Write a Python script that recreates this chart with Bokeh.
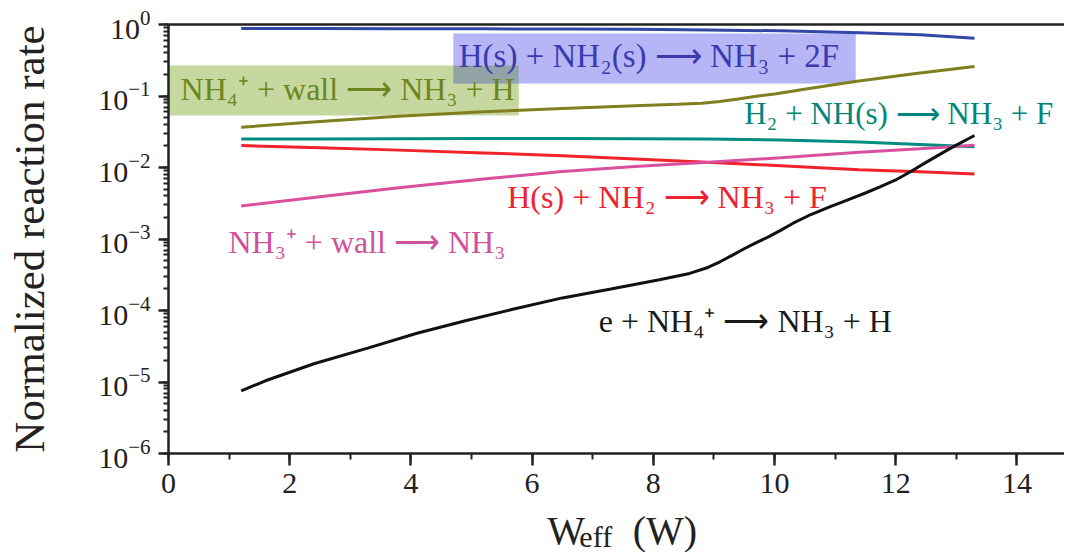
from bokeh.plotting import figure
from bokeh.models import (Label, BoxAnnotation, SingleIntervalTicker, LogTicker, Range1d,
                          LinearAxis)
from bokeh.embed import file_html
from bokeh.resources import INLINE

# ---- data ----
x_common = [1.2, 2.5, 3.8, 5.2, 6.5, 7.7, 8.9, 10.1, 11.4, 12.4, 13.3]
blue_hs_nh2s = [0.88, 0.88, 0.875, 0.87, 0.865, 0.855, 0.84, 0.815, 0.765, 0.72, 0.64]
teal_h2_nhs = [0.025, 0.025, 0.0252, 0.0254, 0.0254, 0.0252, 0.025, 0.0242, 0.0228, 0.021, 0.0195]
red_hs_nh2 = [0.0203, 0.0189, 0.0175, 0.016, 0.0146, 0.0132, 0.0118, 0.0106, 0.0093, 0.0087, 0.0081]
magenta_nh3p_wall = [0.0029, 0.0039, 0.0052, 0.0069, 0.0088, 0.0103, 0.0118, 0.0137, 0.0163, 0.0183, 0.0204]

x_olive = [1.2, 2.5, 3.8, 5.2, 6.5, 7.7, 8.4, 8.8, 9.1, 9.4, 9.7, 10.0, 10.6, 11.3, 12.3, 13.3]
olive_nh4p_wall = [0.0366, 0.044, 0.052, 0.060, 0.067, 0.073, 0.0765, 0.079, 0.084, 0.091,
                   0.099, 0.107, 0.128, 0.158, 0.205, 0.259]

x_black = [1.2, 1.6, 2.4, 3.3, 4.1, 4.9, 5.7, 6.5, 7.3, 8.1, 8.6, 8.9, 9.1, 9.3, 9.5, 9.7,
           9.9, 10.1, 10.3, 10.6, 10.9, 11.2, 11.5, 11.75, 12.0, 12.25, 12.5, 12.9, 13.3]
black_e_nh4p = [7.5e-6, 1.04e-5, 1.8e-5, 3.0e-5, 4.8e-5, 7.2e-5, 1.05e-4, 1.5e-4, 2.0e-4,
                2.7e-4, 3.3e-4, 4.0e-4, 4.8e-4, 5.9e-4, 7.3e-4, 8.9e-4, 1.07e-3, 1.32e-3,
                1.65e-3, 2.2e-3, 2.8e-3, 3.5e-3, 4.4e-3, 5.4e-3, 6.7e-3, 8.8e-3, 1.18e-2,
                1.85e-2, 2.8e-2]

X_MIN, X_MAX = 0, 14.7855       # visible data extent of the axes
Y_MIN, Y_MAX = 1e-6, 1

FONT = "Liberation Serif"
INK = "#222222"
LIFT = 10**0.161                # text baseline correction (about 11 px)

# The frame fills the whole canvas; axes are pinned at x=0 / y=1e-6 so every text
# (tick labels, axis titles) stays inside the drawable area.
p = figure(width=1064, height=552, y_axis_type="log",
           x_range=Range1d(-2.7723, X_MAX), y_range=Range1d(10**-7.3846, 10**0.3357),
           output_backend="svg", toolbar_location=None,
           min_border_left=0, min_border_right=0, min_border_top=0, min_border_bottom=0)
p.grid.visible = False
p.outline_line_color = None

# background label boxes (annotations)
p.add_layout(BoxAnnotation(left=0, right=5.78, bottom=10**-1.273, top=10**-0.573,
                           fill_color="#c6d89f", fill_alpha=1.0, line_color=None, level="underlay"))
p.add_layout(BoxAnnotation(left=4.70, right=11.34, bottom=10**-0.825, top=10**-0.126,
                           fill_color="#b6b6f7", fill_alpha=1.0, line_color=None, level="underlay"))
p.add_layout(BoxAnnotation(left=4.70, right=5.78, bottom=10**-0.825, top=10**-0.573,
                           fill_color="#92a3a6", fill_alpha=1.0, line_color=None, level="underlay"))

lw = 3
p.line(x_common, blue_hs_nh2s, line_color="#3347a8", line_width=lw)
p.line(x_olive, olive_nh4p_wall, line_color="#7f7f1f", line_width=lw)
p.line(x_common, teal_h2_nhs, line_color="#008c80", line_width=lw)
p.line(x_common, red_hs_nh2, line_color="#f0222a", line_width=lw)
p.line(x_common, magenta_nh3p_wall, line_color="#d9509f", line_width=lw)
p.line(x_black, black_e_nh4p, line_color="#111111", line_width=lw)

# axes
xa = p.xaxis[0]
xa.fixed_location = Y_MIN
xa.bounds = (X_MIN, X_MAX)
xa.ticker = SingleIntervalTicker(interval=2, num_minor_ticks=2)
ya = p.yaxis[0]
ya.fixed_location = X_MIN
ya.bounds = (Y_MIN, Y_MAX)
ya.ticker = LogTicker(num_minor_ticks=10)
for ax in (xa, ya):
    ax.axis_line_width = 2.5
    ax.axis_line_color = INK
    ax.major_tick_line_width = 2.5
    ax.minor_tick_line_width = 2
    ax.major_tick_line_color = INK
    ax.minor_tick_line_color = INK
    ax.major_tick_in = 0
    ax.minor_tick_in = 0
    ax.major_label_text_font = FONT
    ax.major_label_text_font_size = "30px"
    ax.major_label_text_color = INK
xa.major_tick_out = 12
xa.minor_tick_out = 6
xa.major_label_standoff = 8
ya.major_tick_out = 10
ya.minor_tick_out = 5
ya.major_label_standoff = 8
ya.axis_label = "Normalized reaction rate"
ya.axis_label_text_font = FONT
ya.axis_label_text_font_size = "43px"
ya.axis_label_text_font_style = "normal"
ya.axis_label_text_color = INK
ya.axis_label_standoff = 42

# top frame line (an axis without ticks or labels)
top = LinearAxis(fixed_location=Y_MAX, bounds=(X_MIN, X_MAX),
                 axis_line_width=2.5, axis_line_color=INK,
                 major_tick_line_color=None, minor_tick_line_color=None,
                 major_label_text_color=None)
p.add_layout(top, "above")

# x axis title W_eff (W) built from text pieces
p.add_layout(Label(x=6.25, y=10**-7.077, text="W", text_font=FONT, text_font_size="40px",
                   text_color=INK, text_baseline="alphabetic"))
p.add_layout(Label(x=6.78, y=10**-7.16, text="eff", text_font=FONT, text_font_size="30px",
                   text_color=INK, text_baseline="alphabetic"))
p.add_layout(Label(x=7.66, y=10**-7.077, text="(W)", text_font=FONT, text_font_size="40px",
                   text_color=INK, text_baseline="alphabetic"))

# reaction labels
labels = [
    (4.79, 0.253, "H(s) + NH₂(s) ⟶ NH₃ + 2F", "#3a3aae", "33px"),
    (0.20, 0.0865, "NH₄⁺ + wall ⟶ NH₃ + H", "#6a861c", "32px"),
    (9.50, 0.0387, "H₂ + NH(s) ⟶ NH₃ + F", "#00877a", "31px"),
    (5.59, 0.00267, "H(s) + NH₂ ⟶ NH₃ + F", "#ee2230", "32px"),
    (0.99, 6.27e-4, "NH₃⁺ + wall ⟶ NH₃", "#d0519c", "32px"),
    (7.10, 4.92e-5, "e + NH₄⁺ ⟶ NH₃ + H", "#1a1a1a", "32px"),
]
for lx, ly, txt, col, fs in labels:
    p.add_layout(Label(x=lx, y=ly * LIFT, text=txt, text_font=FONT, text_font_size=fs,
                       text_color=col, text_baseline="alphabetic"))

open("out.html", "w").write(file_html(p, INLINE))
